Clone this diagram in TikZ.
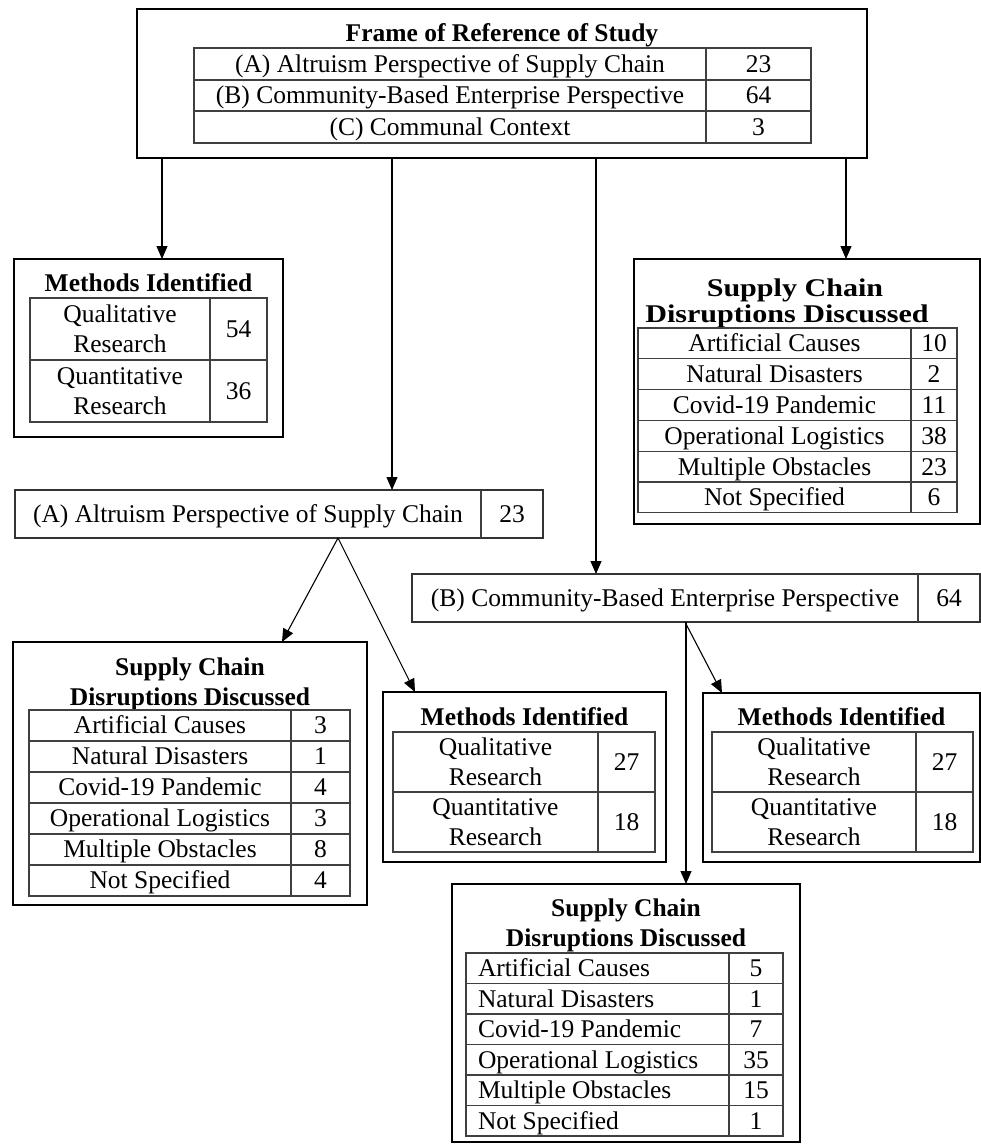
\documentclass[tikz,border=0pt]{standalone}
\usepackage{fontspec}
\setmainfont{Liberation Serif}
\usepackage{graphicx}
\usetikzlibrary{arrows.meta}
\tikzset{
  obox/.style={draw=black, line width=2.6pt, inner sep=0pt, outer sep=0pt, rectangle, anchor=north west},
  pbox/.style={draw=black!80, line width=1.3pt, inner sep=0pt, outer sep=0pt, rectangle, anchor=north west},
  tline/.style={draw=black!75, line width=1.3pt},
  txt/.style={font=\fontsize{25.5}{30}\selectfont, inner sep=0pt, outer sep=0pt},
  ttl/.style={font=\fontsize{25.5}{30}\selectfont\bfseries, inner sep=0pt, outer sep=0pt},
  arr/.style={-{Triangle[length=13pt,width=11pt]}, line width=1.1pt, draw=black},
}
\newcommand{\ctext}[4]{\node[txt, anchor=base] (#1) at (#2,#3+8.4) {#4};}
\newcommand{\twotext}[5]{\node[txt, anchor=base] (#1a) at (#2,#3-6.6) {#4};\node[txt, anchor=base] (#1b) at (#2,#3+23.4) {#5};}
\newcommand{\ttext}[4]{\node[ttl, anchor=base] (#1) at (#2,#3+8.4) {#4};}
\begin{document}
\begin{tikzpicture}[x=1pt, y=-1pt]
\useasboundingbox (0,0) rectangle (981,1144);
\fill[white] (0,0) rectangle (981,1144);

% ---------- top box ----------
\node[obox, minimum width=730, minimum height=149] (top) at (137,9) {};
\ttext{topT}{502}{33}{Frame of Reference of Study}
\draw[tline] (194,48) rectangle (811,143);
\draw[tline] (706,48) -- (706,143);
\draw[tline] (194,80) -- (811,80);
\draw[tline] (194,111) -- (811,111);
\ctext{topA}{450}{64}{(A) Altruism Perspective of Supply Chain}
\ctext{topAv}{758.5}{64}{23}
\ctext{topB}{450}{95.5}{(B) Community-Based Enterprise Perspective}
\ctext{topBv}{758.5}{95.5}{64}
\ctext{topC}{450}{127}{(C) Communal Context}
\ctext{topCv}{758.5}{127}{3}

% ---------- left methods box ----------
\node[obox, minimum width=269, minimum height=178] (methTop) at (14,259) {};
\ttext{methTopT}{148.5}{283}{Methods Identified}
\draw[tline] (30,298) rectangle (267,422);
\draw[tline] (210,298) -- (210,422);
\draw[tline] (30,360) -- (267,360);
\twotext{mt1}{120}{329}{Qualitative}{Research}
\ctext{mt1v}{238.5}{329}{54}
\twotext{mt2}{120}{391}{Quantitative}{Research}
\ctext{mt2v}{238.5}{391}{36}

% ---------- right supply chain box ----------
\node[obox, minimum width=346, minimum height=265] (scdTop) at (634,259) {};
\node[ttl, anchor=base] (scdTopT1) at (795,296) {\scalebox{1.18}[1]{Supply Chain}};
\node[ttl, anchor=base] (scdTopT2) at (787,322) {\scalebox{1.18}[1]{Disruptions Discussed}};
\draw[tline] (638,328) rectangle (957,512.8);
\draw[tline] (911,328) -- (911,512.8);
\foreach \k in {1,...,5} \draw[tline] (638,{328+\k*30.8}) -- (957,{328+\k*30.8});
\foreach \t/\v [count=\i] in {Artificial Causes/10, Natural Disasters/2, Covid-19 Pandemic/11, Operational Logistics/38, Multiple Obstacles/23, Not Specified/6} {
  \node[txt, anchor=base] (sct\i) at (774.5,{328+(\i-0.5)*30.8+8.4}) {\t};
  \node[txt, anchor=base] (scv\i) at (934,{328+(\i-0.5)*30.8+8.4}) {\v};
}

% ---------- (A) box ----------
\node[pbox, minimum width=528, minimum height=48] (altA) at (15,490) {};
\draw[tline] (481,490) -- (481,538);
\ctext{altAT}{248}{514}{(A) Altruism Perspective of Supply Chain}
\ctext{altAV}{512}{514}{23}

% ---------- (B) box ----------
\node[pbox, minimum width=568, minimum height=48] (cbeB) at (412,574) {};
\draw[tline] (918,574) -- (918,622);
\ctext{cbeBT}{665}{598}{(B) Community-Based Enterprise Perspective}
\ctext{cbeBV}{949}{598}{64}

% ---------- left supply chain box (A) ----------
\node[obox, minimum width=354, minimum height=263] (scdA) at (13,642) {};
\ttext{scdAT1}{190}{667}{Supply Chain}
\ttext{scdAT2}{190}{697}{Disruptions Discussed}
\draw[tline] (29,710) rectangle (350,896);
\draw[tline] (291,710) -- (291,896);
\foreach \k in {1,...,5} \draw[tline] (29,{710+\k*31}) -- (350,{710+\k*31});
\foreach \t/\v [count=\i] in {Artificial Causes/3, Natural Disasters/1, Covid-19 Pandemic/4, Operational Logistics/3, Multiple Obstacles/8, Not Specified/4} {
  \node[txt, anchor=base] (sat\i) at (160,{710+(\i-0.5)*31+8.4}) {\t};
  \node[txt, anchor=base] (sav\i) at (320.5,{710+(\i-0.5)*31+8.4}) {\v};
}

% ---------- middle methods box (A) ----------
\node[obox, minimum width=283, minimum height=170] (methA) at (383,692) {};
\ttext{methAT}{524.5}{717}{Methods Identified}
\draw[tline] (393,732) rectangle (655,852);
\draw[tline] (598,732) -- (598,852);
\draw[tline] (393,792) -- (655,792);
\twotext{ma1}{495.5}{762}{Qualitative}{Research}
\ctext{ma1v}{626.5}{762}{27}
\twotext{ma2}{495.5}{822}{Quantitative}{Research}
\ctext{ma2v}{626.5}{822}{18}

% ---------- right methods box (B) ----------
\node[obox, minimum width=277, minimum height=169] (methB) at (703,693) {};
\ttext{methBT}{841.5}{717}{Methods Identified}
\draw[tline] (712,732) rectangle (973,852);
\draw[tline] (916,732) -- (916,852);
\draw[tline] (712,792) -- (973,792);
\twotext{mb1}{814}{762}{Qualitative}{Research}
\ctext{mb1v}{944.5}{762}{27}
\twotext{mb2}{814}{822}{Quantitative}{Research}
\ctext{mb2v}{944.5}{822}{18}

% ---------- bottom supply chain box (B) ----------
\node[obox, minimum width=348, minimum height=258] (scdB) at (452,884) {};
\ttext{scdBT1}{626}{908}{Supply Chain}
\ttext{scdBT2}{626}{938}{Disruptions Discussed}
\draw[tline] (466,953) rectangle (783,1136);
\draw[tline] (729,953) -- (729,1136);
\foreach \k in {1,...,5} \draw[tline] (466,{953+\k*30.5}) -- (783,{953+\k*30.5});
\foreach \t/\v [count=\i] in {Artificial Causes/5, Natural Disasters/1, Covid-19 Pandemic/7, Operational Logistics/35, Multiple Obstacles/15, Not Specified/1} {
  \node[txt, anchor=base west] (sbt\i) at (478,{953+(\i-0.5)*30.5+8.4}) {\t};
  \node[txt, anchor=base] (sbv\i) at (756,{953+(\i-0.5)*30.5+8.4}) {\v};
}

% ---------- connectors ----------
\draw[arr] ([xshift=25pt]top.south west) -- ([xshift=148pt]methTop.north west);
\draw[arr] ([xshift=255pt]top.south west) -- ([xshift=377pt]altA.north west);
\draw[arr] ([xshift=459pt]top.south west) -- ([xshift=184pt]cbeB.north west);
\draw[arr] ([xshift=709pt]top.south west) -- ([xshift=212pt]scdTop.north west);
\draw[arr] ([xshift=323pt]altA.south west) -- ([xshift=269pt]scdA.north west);
\draw[arr] ([xshift=323pt]altA.south west) -- ([xshift=32pt]methA.north west);
\draw[arr] ([xshift=273pt]cbeB.south west) -- ([xshift=19pt]methB.north west);
\draw[arr] ([xshift=274pt]cbeB.south west) -- ([xshift=234pt]scdB.north west);
\end{tikzpicture}
\end{document}
